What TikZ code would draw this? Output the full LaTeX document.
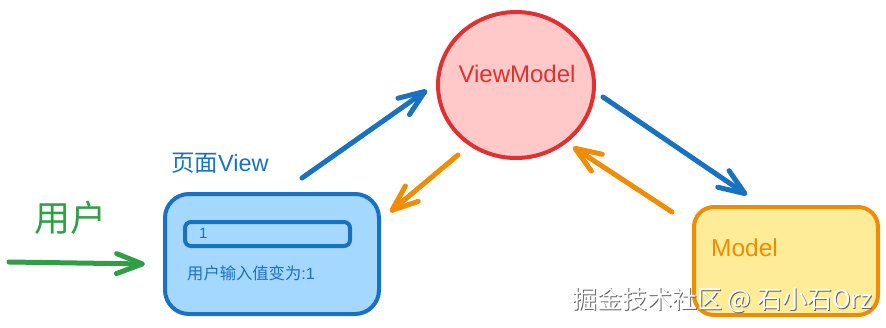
\documentclass[tikz,border=0pt]{standalone}
\usepackage{fontspec}
\setmainfont{Liberation Sans}
\newfontfamily\cjk{Noto Sans CJK SC}
\usetikzlibrary{arrows.meta,shapes.geometric}
\definecolor{cblue}{HTML}{1971C2}
\definecolor{clblue}{HTML}{A5D8FF}
\definecolor{cred}{HTML}{E03131}
\definecolor{cpink}{HTML}{FFC9C9}
\definecolor{corange}{HTML}{F08C00}
\definecolor{cyellow}{HTML}{FFEC99}
\definecolor{cgreen}{HTML}{2F9E44}
\begin{document}
\begin{tikzpicture}[x=1pt,y=-1pt,
  arr/.style={line width=5pt, line cap=round, -{Straight Barb[length=26pt,width=20pt,round]}},
  shapebox/.style={line width=4pt, inner sep=0pt},
  fs/.style={font=\fontsize{#1}{#1}\selectfont}
]
\useasboundingbox (0,0) rectangle (886,327);
% ViewModel
\node[shapebox, ellipse, draw=cred, fill=cpink, minimum width=156pt, minimum height=146pt] (vm) at (516,85) {};
\node[text=cred, fs=24] (vmlabel) at (517,74) {ViewModel};
% View box
\node[shapebox, draw=cblue, fill=clblue, rounded corners=24pt, minimum width=214pt, minimum height=120pt] (view) at (272,254) {};
\node[shapebox, draw=cblue, rounded corners=6pt, minimum width=165pt, minimum height=24pt] (input) at (267.5,234) {};
\node[text=cblue, fs=15, anchor=west, inner sep=0pt] (inval) at (199,233) {1};
\node[text=cblue, fs=16.3, anchor=west, inner sep=0pt] (outval) at (187,273) {\cjk 用户输入值变为\rmfamily :1};
\node[text=cblue, fs=23.5, anchor=west, inner sep=0pt] (viewlabel) at (171,163) {\cjk 页面\rmfamily View};
% Model box
\node[shapebox, draw=corange, fill=cyellow, rounded corners=20pt, minimum width=184pt, minimum height=108pt] (model) at (786,261) {};
\node[text=corange, fs=24.5, anchor=west, inner sep=0pt] (modellabel) at (711,248) {Model};
% user
\node[text=cgreen, fs=36, inner sep=0pt] (user) at (70,218) {\cjk 用户};
\coordinate (u1) at (9,262);
\coordinate (u2) at (145,264);
\draw[arr, draw=cgreen] (u1) -- (u2);
% arrows
\coordinate (b1s) at (302,178);
\coordinate (b1e) at (427,90);
\draw[arr, draw=cblue] (b1s) -- (b1e);
\coordinate (o1s) at (458,155);
\coordinate (o1e) at (390,212);
\draw[arr, draw=corange] (o1s) -- (o1e);
\coordinate (b2s) at (603,97);
\coordinate (b2e) at (747,195);
\draw[arr, draw=cblue] (b2s) -- (b2e);
\coordinate (o2s) at (672,212);
\coordinate (o2e) at (573,147);
\draw[arr, draw=corange] (o2s) -- (o2e);
% watermark
\node[text=black!60, fs=25, anchor=west, inner sep=0pt] (wmshadow) at (573,301) {\cjk 掘金技术社区 @ 石小石Orz};
\node[text=white, fs=25, anchor=west, inner sep=0pt] (wm) at (572,300) {\cjk 掘金技术社区 @ 石小石Orz};
\end{tikzpicture}
\end{document}
